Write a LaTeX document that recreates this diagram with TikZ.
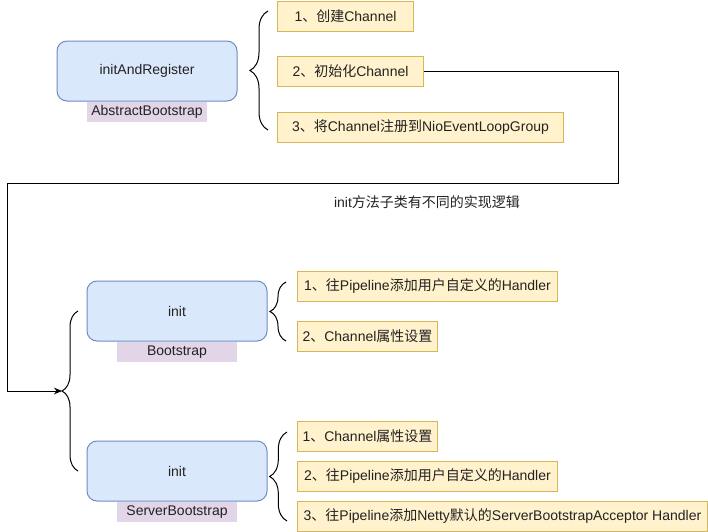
\documentclass[tikz,border=0pt]{standalone}
\usepackage{fontspec}
\setmainfont{Liberation Sans}
\newfontfamily\cjk{Noto Sans CJK SC}
\usetikzlibrary{positioning,decorations.pathreplacing,arrows.meta}

\definecolor{methodfill}{HTML}{DAE8FC}
\definecolor{methodline}{HTML}{6C8EBF}
\definecolor{stepfill}{HTML}{FFF2CC}
\definecolor{stepline}{HTML}{D6B656}
\definecolor{classfill}{HTML}{E1D5E7}
\definecolor{txt}{HTML}{222222}

\tikzset{
  method/.style={draw=methodline, fill=methodfill, rounded corners=7.5pt,
    minimum width=135pt, minimum height=45pt, inner sep=0pt, line width=0.75pt},
  classlbl/.style={fill=classfill, minimum width=90pt, minimum height=15pt, inner sep=0pt},
  stepbox/.style={draw=stepline, fill=stepfill, anchor=west,
    minimum height=22.5pt, inner sep=0pt, line width=0.75pt},
  curly/.style={decorate, decoration={brace, amplitude=#1}, line width=0.75pt},
  flow/.style={line width=0.75pt, -{Stealth[length=6pt,width=5pt]}}
}

\begin{document}
\begin{tikzpicture}[x=0.75pt, y=-0.75pt, font=\fontsize{10.5}{12}\selectfont, text=txt]
\useasboundingbox (0,0) rectangle (708,532);

% AbstractBootstrap
\node[method] (reg) at (147,71) {initAndRegister};
\node[classlbl, below=0pt of reg] (regcls) {AbstractBootstrap};
\draw[curly=13.5pt] (268,130) -- (268,11);
\node[stepbox, minimum width=102pt] (reg1) at (277,16) {1{\cjk 、创建}Channel};
\node[stepbox, minimum width=109.5pt] (reg2) at (277,71) {2{\cjk 、初始化}Channel};
\node[stepbox, minimum width=214.5pt] (reg3) at (277,127) {3{\cjk 、将}Channel{\cjk 注册到}NioEventLoopGroup};

% note on the jump
\node (note) at (427,202) {init{\cjk 方法子类有不同的实现逻辑}};

% brace over both init boxes
\draw[curly=12pt] (78,471) -- (78,311);
\coordinate (inittip) at (62,391);
\draw[flow] (reg2.east) -- ++(194,0) |- (7,183) |- (inittip);

% Bootstrap
\node[method] (boot) at (177,311) {init};
\node[classlbl, below=0pt of boot] (bootcls) {Bootstrap};
\draw[curly=12pt] (286,341) -- (286,282);
\node[stepbox, minimum width=195pt] (boot1) at (297,286) {1{\cjk 、往}Pipeline{\cjk 添加用户自定义的}Handler};
\node[stepbox, minimum width=105pt] (boot2) at (297,336) {2{\cjk 、}Channel{\cjk 属性设置}};

% ServerBootstrap
\node[method] (srv) at (177,471) {init};
\node[classlbl, below=0pt of srv] (srvcls) {ServerBootstrap};
\draw[curly=13pt] (287,521) -- (287,432);
\node[stepbox, minimum width=105pt] (srv1) at (297,436) {1{\cjk 、}Channel{\cjk 属性设置}};
\node[stepbox, minimum width=195pt] (srv2) at (297,476) {2{\cjk 、往}Pipeline{\cjk 添加用户自定义的}Handler};
\node[stepbox, minimum width=307.5pt] (srv3) at (297,516) {3{\cjk 、往}Pipeline{\cjk 添加}Netty{\cjk 默认的}ServerBootstrapAcceptor Handler};
\end{tikzpicture}
\end{document}
